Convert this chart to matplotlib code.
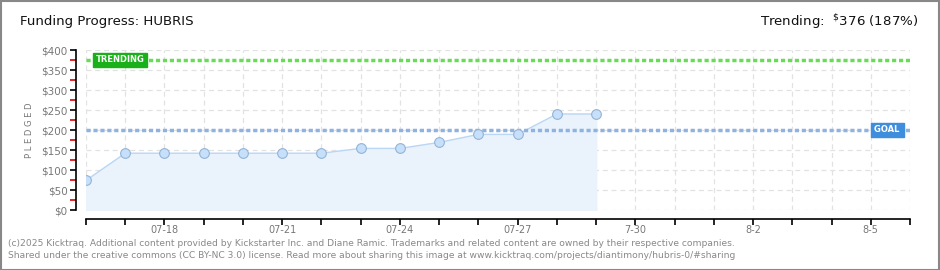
import matplotlib
matplotlib.use("Agg")
import matplotlib.pyplot as plt
import matplotlib.dates as mdates
from matplotlib.patches import Rectangle
import datetime as dt

dates = ["2025-07-16", "2025-07-17", "2025-07-18", "2025-07-19", "2025-07-20",
         "2025-07-21", "2025-07-22", "2025-07-23", "2025-07-24", "2025-07-25",
         "2025-07-26", "2025-07-27", "2025-07-28", "2025-07-29"]
pledged = [74, 142, 142, 142, 142, 142, 142, 154, 154, 169, 189, 189, 240, 240]
goal = 200
trending = 376
start_date = "2025-07-16"
end_date = "2025-08-06"
tick_labels = {"2025-07-18": "07-18", "2025-07-21": "07-21", "2025-07-24": "07-24",
               "2025-07-27": "07-27", "2025-07-30": "7-30", "2025-08-02": "8-2",
               "2025-08-05": "8-5"}
yticks = [0, 50, 100, 150, 200, 250, 300, 350, 400]

plt.rcParams['font.family'] = ['DejaVu Sans']

W, H = 940, 270
fig = plt.figure(figsize=(W/100, H/100), dpi=100)
fig.patch.set_facecolor("white")
fig.add_artist(Rectangle((0.5/W, 0.5/H), 1-1.5/W, 1-1.5/H, transform=fig.transFigure,
                         fill=False, edgecolor="#888888", lw=1.5))

ax = fig.add_axes([86/W, (H-210)/H, (910-86)/W, 160/H])
x = [dt.datetime.strptime(d, "%Y-%m-%d") for d in dates]
x0 = dt.datetime.strptime(start_date, "%Y-%m-%d")
x1 = dt.datetime.strptime(end_date, "%Y-%m-%d")
ax.set_xlim(x0, x1)
ax.set_ylim(0, 400)

ax.set_axisbelow(True)
ax.grid(True, which="major", color="#e2e2e2", linestyle=(0, (4, 3)), lw=0.9)

ax.fill_between(x, pledged, 0, color="#eaf3fc", zorder=1)
ax.plot(x, pledged, color="#b9d6f4", lw=1, zorder=2)
ax.plot(x, pledged, "o", ms=7, mfc="#c6dffa", mec="#94b4d4", mew=0.8, zorder=3)

ax.axhline(goal, color="#8fb3e0", lw=2.5, linestyle=(0, (1.2, 0.8)), zorder=2)
ax.axhline(trending, color="#66dd55", lw=2.5, linestyle=(0, (1.2, 0.8)), zorder=2)

ax.text(0.012, trending, "TRENDING", transform=ax.get_yaxis_transform(), ha="left", va="center",
        fontsize=6, color="white", fontweight="bold", zorder=5,
        bbox=dict(boxstyle="square,pad=0.3", fc="#19b019", ec="#19b019"))
ax.text(0.99, goal, "GOAL ", transform=ax.get_yaxis_transform(), ha="right", va="center",
        fontsize=6, color="white", fontweight="bold", zorder=5,
        bbox=dict(boxstyle="square,pad=0.3", fc="#3f8ddd", ec="#3f8ddd"))

for s in ["top", "right"]:
    ax.spines[s].set_visible(False)
ax.spines["left"].set_position(("outward", 7.2))
ax.spines["bottom"].set_position(("outward", 6.5))
ax.spines["left"].set_linewidth(1.2)
ax.spines["bottom"].set_linewidth(1.2)

ax.set_yticks(yticks)
ax.set_yticklabels([f"${v}" for v in yticks], color="#777777", fontsize=7.5)
ax.set_yticks([v + 25 for v in yticks[:-1]], minor=True)
ax.tick_params(axis="y", which="major", length=4, width=1.2, color="black", pad=2)
ax.tick_params(axis="y", which="minor", length=4, width=1.2, color="#dd0000")

ax.xaxis.set_major_locator(mdates.DayLocator())
ax.xaxis.set_major_formatter(plt.FuncFormatter(
    lambda v, p: tick_labels.get(mdates.num2date(v).strftime("%Y-%m-%d"), "")))
ax.tick_params(axis="x", which="major", length=4, width=1.2, color="black",
               labelsize=7, labelcolor="#777777", pad=0.5)

ax.set_ylabel("P L E D G E D", fontsize=6, color="#777777", labelpad=5)

fig.text(20/W, 1-22/H, "Funding Progress: HUBRIS", fontsize=9.6, color="#111111",
         ha="left", va="center")
fig.text(918/W, 1-22/H, r"Trending:  $^{\$}$376 (187%)", fontsize=9.6, color="#111111",
         ha="right", va="center")
fig.text(8/W, 1-243/H, "(c)2025 Kicktraq. Additional content provided by Kickstarter Inc. and Diane Ramic. Trademarks and related content are owned by their respective companies.",
         fontsize=6.6, color="#888888", ha="left", va="center")
fig.text(8/W, 1-256/H, "Shared under the creative commons (CC BY-NC 3.0) license. Read more about sharing this image at www.kicktraq.com/projects/diantimony/hubris-0/#sharing",
         fontsize=6.6, color="#888888", ha="left", va="center")

fig.savefig("out.png", dpi=100, facecolor="white")
